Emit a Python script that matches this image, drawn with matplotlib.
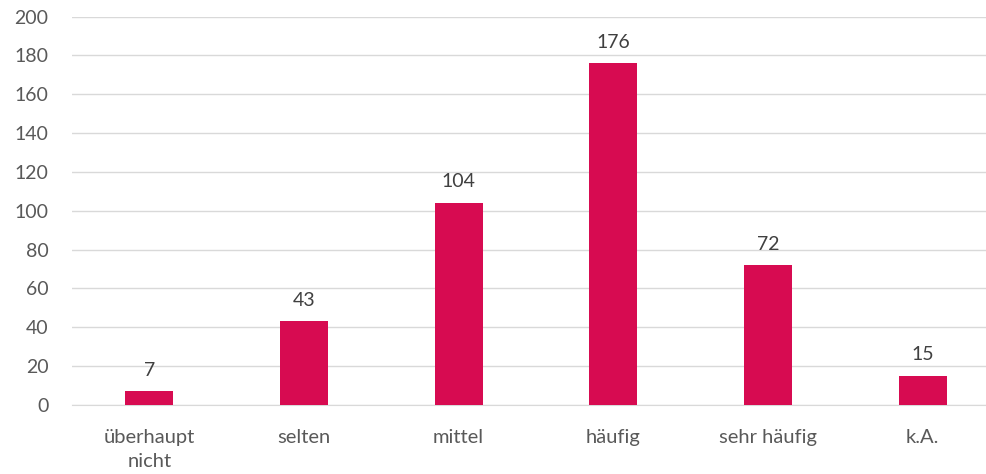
import matplotlib
matplotlib.use('Agg')
import matplotlib.pyplot as plt
import numpy as np

categories = ['überhaupt\nnicht', 'selten', 'mittel', 'häufig', 'sehr häufig', 'k.A.']
values = [7, 43, 104, 176, 72, 15]
y_ticks = list(range(0, 201, 20))

BAR_COLOR = '#D70B51'
TEXT_COLOR = '#595959'
GRID_COLOR = '#D9D9D9'

plt.rcParams['font.family'] = ['Lato', 'DejaVu Sans']

fig = plt.figure(figsize=(9.86, 4.74), dpi=100)
ax = fig.add_axes([72 / 986, 69 / 474, 928 / 986, 388.5 / 474])

x = np.arange(len(categories))
bars = ax.bar(x, values, width=0.31, color=BAR_COLOR, zorder=3)

for rect, v in zip(bars, values):
    ax.annotate(str(v), (rect.get_x() + rect.get_width() / 2, v),
                xytext=(0, 9), textcoords='offset points',
                ha='center', va='bottom', fontsize=14, color='#404040')

ax.set_xlim(-0.5, len(categories) - 0.5)
ax.set_ylim(0, 200)
ax.set_yticks(y_ticks)
ax.set_xticks(x)
ax.set_xticklabels(categories, fontsize=14.5, color=TEXT_COLOR, linespacing=1.55)
ax.tick_params(axis='y', labelsize=14, labelcolor=TEXT_COLOR, length=0, pad=17)
ax.tick_params(axis='x', length=0, pad=17)

ax.grid(axis='y', color=GRID_COLOR, linewidth=1, zorder=0)
for side in ['top', 'right', 'left']:
    ax.spines[side].set_visible(False)
ax.spines['bottom'].set_color(GRID_COLOR)

fig.savefig('out.png', dpi=100)
